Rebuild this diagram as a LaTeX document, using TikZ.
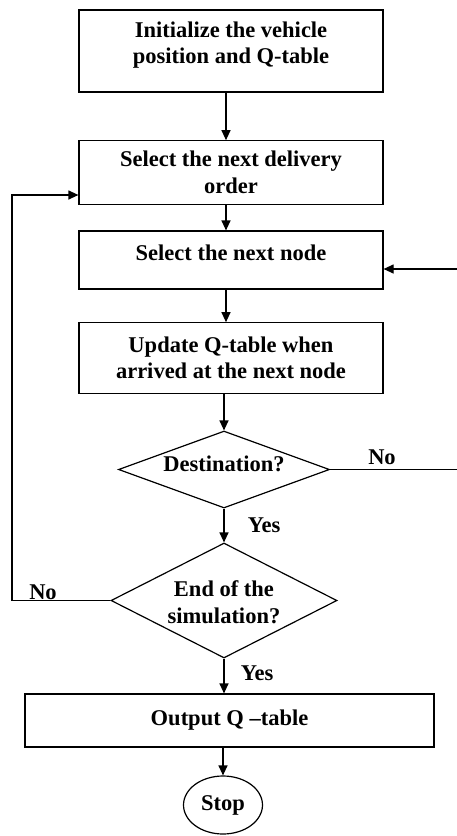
\documentclass[tikz,border=0pt]{standalone}
\usepackage{fontspec}
\setmainfont{Liberation Serif}
\usetikzlibrary{shapes.geometric,arrows.meta}
\begin{document}
\begin{tikzpicture}[x=1pt,y=-1pt,
  line width=1.2pt,
  fnt/.style={font=\fontsize{22.5}{26.5}\selectfont\bfseries},
  box/.style={draw, fnt, inner sep=0pt, align=center},
  txt/.style={fnt, inner sep=0pt, align=center},
  dec/.style={draw, shape=diamond, inner sep=0pt},
  arr/.style={-{Triangle[length=10pt,width=9pt]}}
]
\useasboundingbox (0,0) rectangle (457,836);
\clip (0,0) rectangle (457,836);
\coordinate (ax) at (226,0);
\coordinate (lc) at (12,0);
\coordinate (rc) at (458.5,0);

\node[box, minimum width=304pt, minimum height=82pt] (b1) at (231,51) {};
\node[txt] (t1) at (231,45) {Initialize the vehicle\\position and Q-table};
\node[box, minimum width=304pt, minimum height=63.5pt] (b2) at (231,172.5) {Select the next delivery\\order};
\node[box, minimum width=304pt, minimum height=58pt] (b3) at (231,260) {};
\node[txt] (t3) at (231,253) {Select the next node};
\node[box, minimum width=304pt, minimum height=70.5pt] (b4) at (231,358) {Update Q-table when\\arrived at the next node};
\node[dec, minimum width=211pt, minimum height=77pt] (d1) at (224,469.5) {};
\node[txt] (td1) at (224,464) {Destination?};
\node[dec, minimum width=226pt, minimum height=115pt] (d2) at (224,600.5) {};
\node[txt] (td2) at (224,602) {End of the\\simulation?};
\node[box, minimum width=409pt, minimum height=53pt] (b5) at (229.5,720.5) {Output Q –table};
\node[draw, ellipse, fnt, inner sep=0pt, minimum width=79pt, minimum height=58pt] (st) at (223,805) {Stop};

\draw[arr] (b1.south -| ax) -- (b2.north -| ax);
\draw[arr] (b2.south -| ax) -- (b3.north -| ax);
\draw[arr] (b3.south -| ax) -- (b4.north -| ax);
\draw[arr] (b4.south -| d1.north) -- (d1.north);
\draw[arr] (d1.south) -- (d2.north);
\draw[arr] (d2.south) -- (d2.south |- b5.north);
\draw[arr] (st.north |- b5.south) -- (st.north);

\draw[arr] (d1.east) -- (d1.east -| rc) |- ([yshift=-9pt]b3.east);
\draw[arr] (d2.west) -- (d2.west -| lc) |- ([yshift=-22.5pt]b2.west);

\node[txt] (n1) at (382,457) {No};
\node[txt] (y1) at (264,525) {Yes};
\node[txt] (n2) at (43,592) {No};
\node[txt] (y2) at (257,673) {Yes};
\end{tikzpicture}
\end{document}
